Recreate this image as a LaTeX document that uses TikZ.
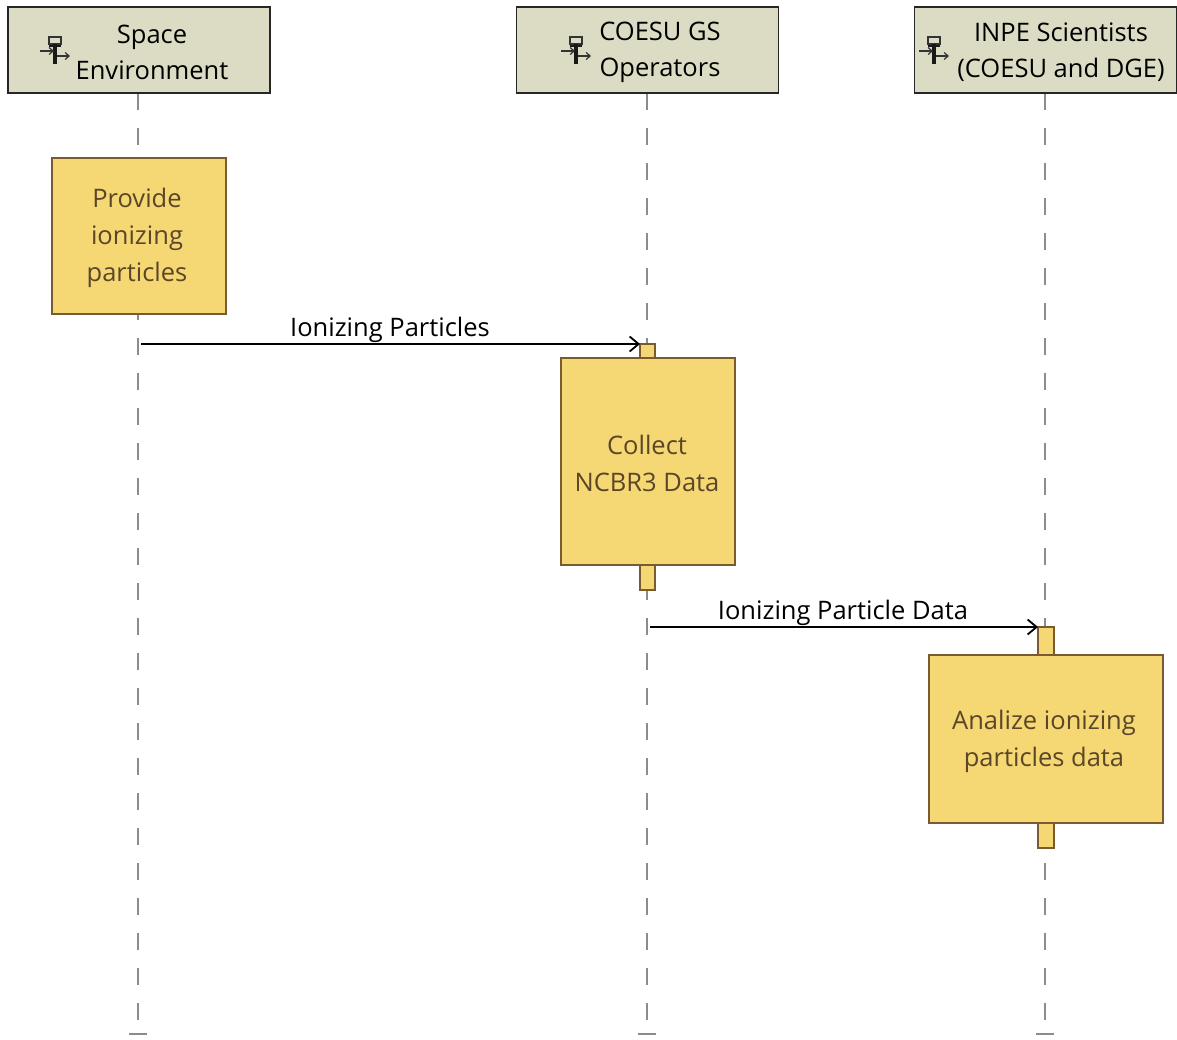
\documentclass[tikz,border=0pt]{standalone}
\usepackage{fontspec}
\setmainfont{Open Sans}
\usetikzlibrary{arrows.meta}
\definecolor{hdrfill}{HTML}{DCDCC5}
\definecolor{actfill}{HTML}{F5D773}
\definecolor{actdraw}{HTML}{7A5A30}
\definecolor{acttext}{HTML}{5A4628}
\definecolor{lifegray}{HTML}{8C8C8C}
\begin{document}
\begin{tikzpicture}[x=1pt,y=-1pt,
  hdr/.style={draw=black!85, line width=1.6pt, fill=hdrfill, minimum width=262pt, minimum height=86pt, inner sep=0pt},
  hdrtext/.style={font=\fontsize{25.5}{36}\selectfont, align=center, text=black, inner sep=0pt},
  actbox/.style={draw=actdraw, line width=1.6pt, fill=actfill, inner sep=0pt},
  acttxt/.style={font=\fontsize{25.5}{37}\selectfont, align=center, text=acttext, inner sep=0pt},
  bar/.style={draw=actdraw, line width=1.4pt, fill=actfill, outer sep=0pt},
  lifeline/.style={draw=lifegray, line width=1.8pt, dash pattern=on 17pt off 18pt},
  msg/.style={draw=black, line width=2pt, -{Straight Barb[length=9pt,width=15pt,line width=1.8pt]}},
  msgtxt/.style={font=\fontsize{25.5}{28}\selectfont, text=black, inner sep=0pt, anchor=base}
]
\useasboundingbox (0,0) rectangle (1177,1039);
\fill[white] (0,0) rectangle (1177,1039);

% icon macro
\newcommand{\lficon}[2]{%
  \begin{scope}[shift={(#1,#2)}]
    \draw[black!80, line width=1.3pt, fill=hdrfill] (-6,-13) rectangle (6,-6);
    \draw[black!90, line width=3.2pt] (0,-6) -- (0,14);
    \draw[black!90, line width=1.8pt] (-6,-4) -- (6,-4);
    \draw[black!80, line width=1.2pt, -{Straight Barb[length=4pt,width=7pt,line width=1.2pt]}] (-15,1) -- (-1,1);
    \draw[black!80, line width=1.2pt, -{Straight Barb[length=4pt,width=7pt,line width=1.2pt]}] (2,6) -- (15,6);
  \end{scope}}

% lifelines (drawn first)
\coordinate (l1top) at (138,93); \coordinate (l1bot) at (138,1034);
\coordinate (l2top) at (647,93); \coordinate (l2bot) at (647,1034);
\coordinate (l3top) at (1045,93); \coordinate (l3bot) at (1045,1034);
\draw[lifeline] (l1top) -- (l1bot);
\draw[lifeline] (l2top) -- (l2bot);
\draw[lifeline] (l3top) -- (l3bot);
\draw[lifegray, line width=2.6pt] (129,1034) -- (147,1034);
\draw[lifegray, line width=2.6pt] (638,1034) -- (656,1034);
\draw[lifegray, line width=2.6pt] (1036,1034) -- (1054,1034);

% headers
\node[hdr] (h1) at (139,50) {};
\node[hdr] (h2) at (647.5,50) {};
\node[hdr] (h3) at (1045.5,50) {};
\node[hdrtext] (h1t) at (152,52) {Space\\Environment};
\node[hdrtext] (h2t) at (660,52) {COESU GS\\Operators};
\node[hdrtext] (h3t) at (1061,52) {INPE Scientists\\(COESU and DGE)};
\lficon{55}{50}
\lficon{576}{50}
\lficon{934}{50}

% activity 1
\node[actbox, minimum width=174pt, minimum height=156pt] (a1) at (139,236) {};
\node[acttxt] (a1t) at (137,238) {Provide\\ionizing\\particles};

% activation bars
\node[bar, minimum width=15pt, minimum height=246pt, inner sep=0pt] (b2) at (647.5,467) {};
\node[bar, minimum width=16pt, minimum height=221pt, inner sep=0pt] (b3) at (1046,737.5) {};

% activity 2
\node[actbox, minimum width=174pt, minimum height=207pt] (a2) at (648,461.5) {};
\node[acttxt] (a2t) at (647,463) {Collect\\NCBR3 Data};

% activity 3
\node[actbox, minimum width=234pt, minimum height=168pt] (a3) at (1046,739) {};
\node[acttxt] (a3t) at (1044,741) {Analize ionizing\\particles data};

% messages
\coordinate (m1s) at (141,344);
\coordinate (m2s) at (650,627);
\draw[msg] (m1s) -- (b2.north west);
\draw[msg] (m2s) -- (b3.north west);
\node[msgtxt] (m1t) at (390,336) {Ionizing Particles};
\node[msgtxt] (m2t) at (843,619) {Ionizing Particle Data};
\end{tikzpicture}
\end{document}
